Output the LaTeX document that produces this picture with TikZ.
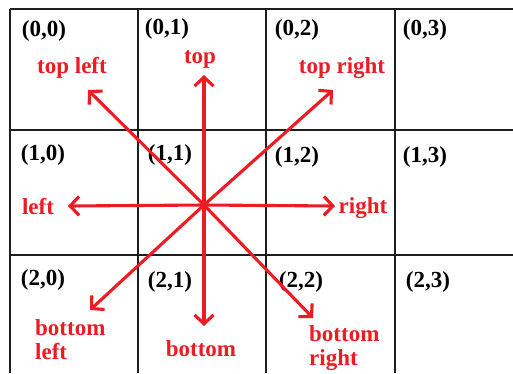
\documentclass[tikz,border=0pt]{standalone}
\usepackage{fontspec}
\setmainfont{Liberation Serif}
\usetikzlibrary{arrows.meta}
\definecolor{arrred}{RGB}{237,28,36}
\definecolor{gridgray}{RGB}{30,30,30}
\begin{document}
\begin{tikzpicture}[x=1pt,y=-1pt,
  gridline/.style={draw=gridgray,line width=1.8pt},
  cell/.style={font=\fontsize{23}{25}\selectfont\bfseries,text=black,inner sep=0pt},
  lbl/.style={font=\fontsize{23}{24}\selectfont\bfseries,text=arrred,inner sep=0pt,align=left},
  dirarrow/.style={draw=arrred,line width=3.1pt,-{Straight Barb[length=9pt,width=19pt,line width=3.1pt]}}]
\useasboundingbox (0,0) rectangle (513,373);
\fill[white] (0,0) rectangle (513,373);
% grid
\draw[gridline] (10,9) -- (513,9);
\draw[gridline] (10,130) -- (513,130);
\draw[gridline] (10,255) -- (513,255);
\draw[gridline] (10,9) -- (10,373);
\draw[gridline] (138,9) -- (138,373);
\draw[gridline] (266,9) -- (266,373);
\draw[gridline] (395,9) -- (395,373);
% cell labels
\node[cell] (c00) at (44,31) {(0,0)};
\node[cell] (c01) at (167,29) {(0,1)};
\node[cell] (c02) at (297,30) {(0,2)};
\node[cell] (c03) at (425,30) {(0,3)};
\node[cell] (c10) at (43,155) {(1,0)};
\node[cell] (c11) at (170,155) {(1,1)};
\node[cell] (c12) at (297,157) {(1,2)};
\node[cell] (c13) at (425,157) {(1,3)};
\node[cell] (c20) at (43,280) {(2,0)};
\node[cell] (c21) at (170,282) {(2,1)};
\node[cell] (c22) at (301,282) {(2,2)};
\node[cell] (c23) at (428,282) {(2,3)};
% direction labels
\node[lbl] (ltl) at (72,68) {top left};
\node[lbl] (lt) at (200,59) {top};
\node[lbl] (ltr) at (342,68) {top right};
\node[lbl] (ll) at (38,207) {left};
\node[lbl] (lr) at (363,208) {right};
\node[lbl,anchor=north west] (lbl) at (35,319) {bottom\\left};
\node[lbl] (lb) at (201,349) {bottom};
\node[lbl,anchor=north west] (lbr) at (309,325) {bottom\\right};
% arrows
\coordinate (ctr) at (204,205);
\coordinate (ttl) at (88,90);
\coordinate (tt) at (204,75);
\coordinate (ttr) at (333,90);
\coordinate (tl) at (68,206);
\coordinate (tr) at (335,206);
\coordinate (tbl) at (90,310);
\coordinate (tb) at (204,326);
\coordinate (tbr) at (313,318);
\foreach \t in {ttl,tt,ttr,tl,tr,tbl,tb,tbr}
  \draw[dirarrow] (ctr) -- (\t);
\end{tikzpicture}
\end{document}
